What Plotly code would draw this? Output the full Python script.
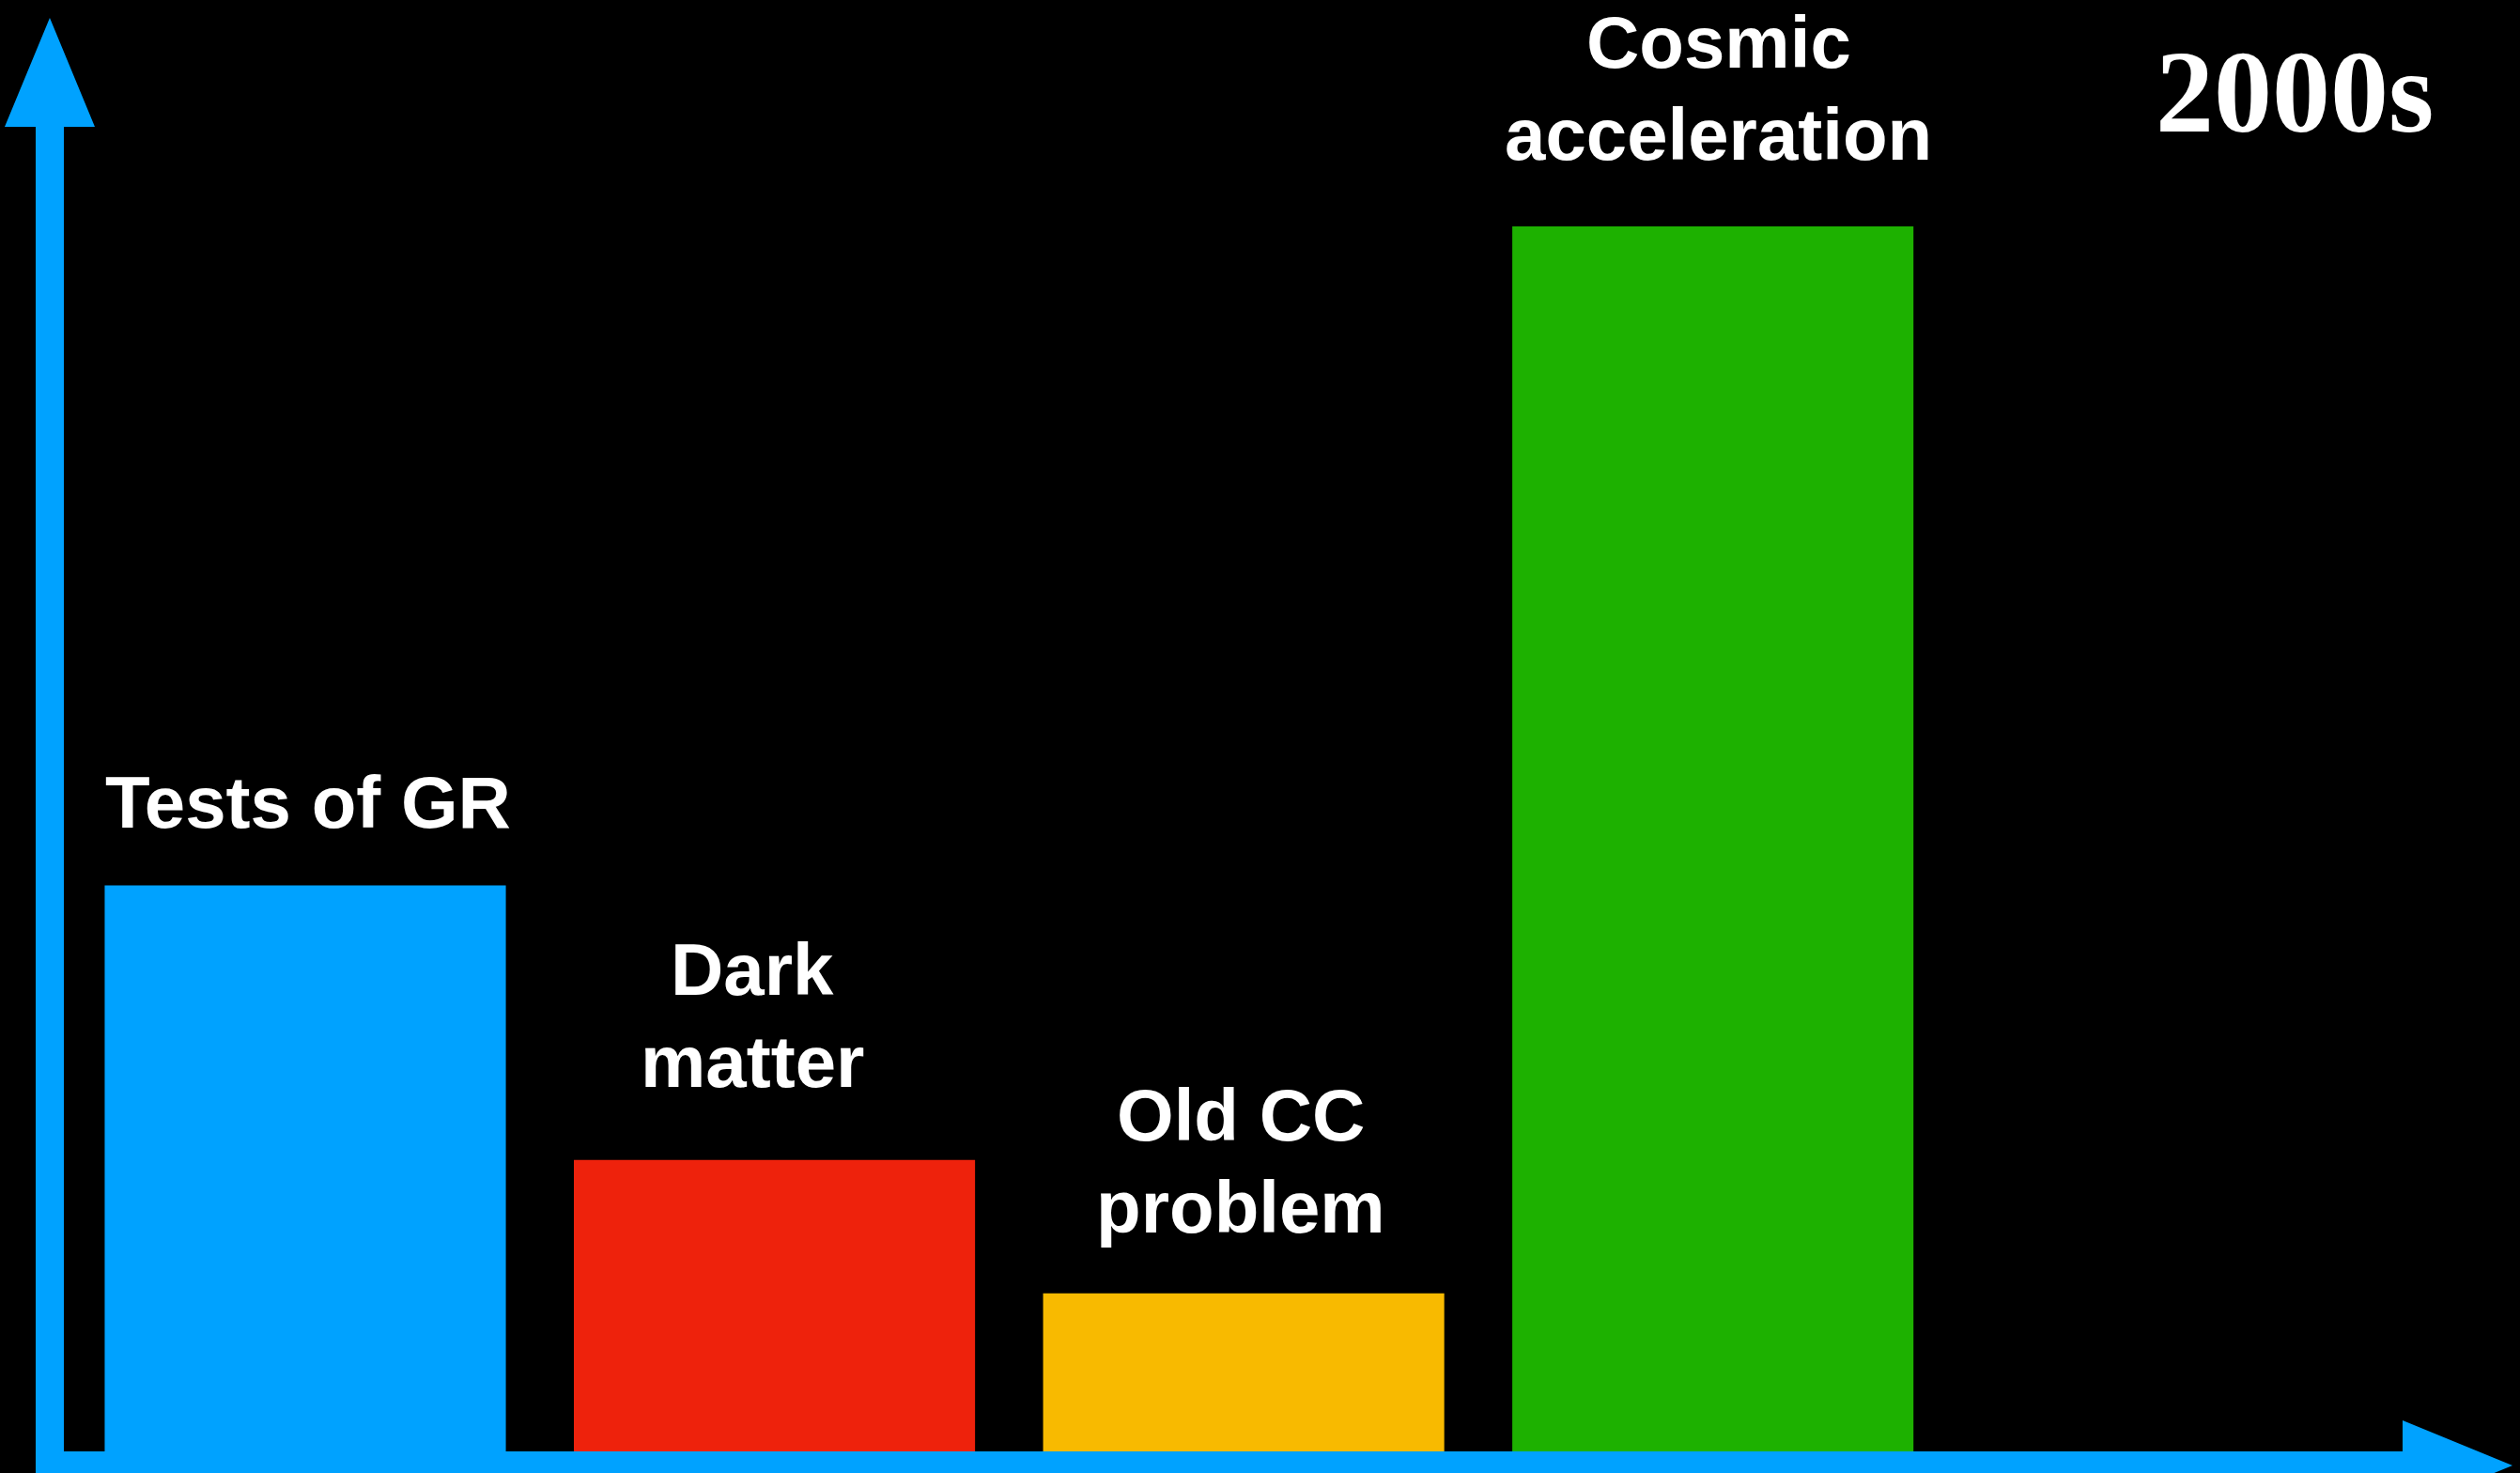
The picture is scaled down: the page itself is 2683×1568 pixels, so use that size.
import plotly.graph_objects as go

# Data
categories = ["Tests of GR", "Dark matter", "Old CC problem", "Cosmic acceleration"]
label_lines = [["Tests of GR"], ["Dark", "matter"], ["Old CC", "problem"], ["Cosmic", "acceleration"]]
values = [46.2, 23.8, 12.9, 100.0]
title_text = "2000s"

# Styling
bar_colors = ["#00A2FF", "#EE220C", "#F8BA00", "#1DB100"]
axis_color = "#00A2FF"
W, H = 2683, 1568
LABEL_SIZE = 78
LINE_STEP = 98                      # distance between label baselines (px)
base_gap = [61, 77, 64, 70]         # bar top to baseline of the lowest label line (px)
label_nudge = [3, -24, -3, 6]       # horizontal nudge of labels (px)
DESCENT = round(0.212 * LABEL_SIZE) + 1


def px(x):
    return x / W


def py(y):
    return 1 - y / H


def path(points):
    return "M " + " L ".join(f"{px(x):.5f},{py(y):.5f}" for x, y in points) + " Z"


fig = go.Figure(
    go.Bar(
        x=categories,
        y=values,
        marker=dict(color=bar_colors, line=dict(width=0)),
        hoverinfo="skip",
    )
)

# Hand-drawn style axes with arrowheads
y_arrow = [(38, 1600), (38, 135), (5, 135), (53, 19), (101, 135), (68, 135), (68, 1600)]
x_arrow = [(38, 1545), (2558, 1545), (2558, 1512), (2675, 1560), (2558, 1608),
           (2558, 1575), (38, 1575)]
shapes = [
    dict(type="path", xref="paper", yref="paper", path=path(pts),
         fillcolor=axis_color, line=dict(width=0), layer="above")
    for pts in (y_arrow, x_arrow)
]

annotations = []
for cat, lines, val, gap, nudge in zip(categories, label_lines, values, base_gap, label_nudge):
    for k, line in enumerate(reversed(lines)):
        annotations.append(dict(
            x=cat, y=val, xref="x", yref="y", text=line, showarrow=False,
            xanchor="center", yanchor="bottom",
            yshift=gap + k * LINE_STEP - DESCENT, xshift=nudge,
            font=dict(family="Liberation Sans, Arial, sans-serif", size=LABEL_SIZE,
                      color="white", weight="bold"),
        ))

annotations.append(dict(
    x=px(2443), y=py(141 + 28), xref="paper", yref="paper", text=title_text,
    showarrow=False, xanchor="center", yanchor="bottom",
    font=dict(family="Liberation Serif, Times New Roman, serif", size=124,
              color="white", weight="bold"),
))

fig.update_layout(
    width=W, height=H,
    margin=dict(l=0, r=0, t=0, b=0),
    paper_bgcolor="black", plot_bgcolor="black",
    showlegend=False,
    bargap=0.145,
    xaxis=dict(type="category", range=[-0.6506, 4.7202], visible=False, fixedrange=True),
    yaxis=dict(range=[-1.764, 118.48], visible=False, fixedrange=True),
    shapes=shapes,
    annotations=annotations,
)

fig.write_html("out.html", config={"displayModeBar": False})
